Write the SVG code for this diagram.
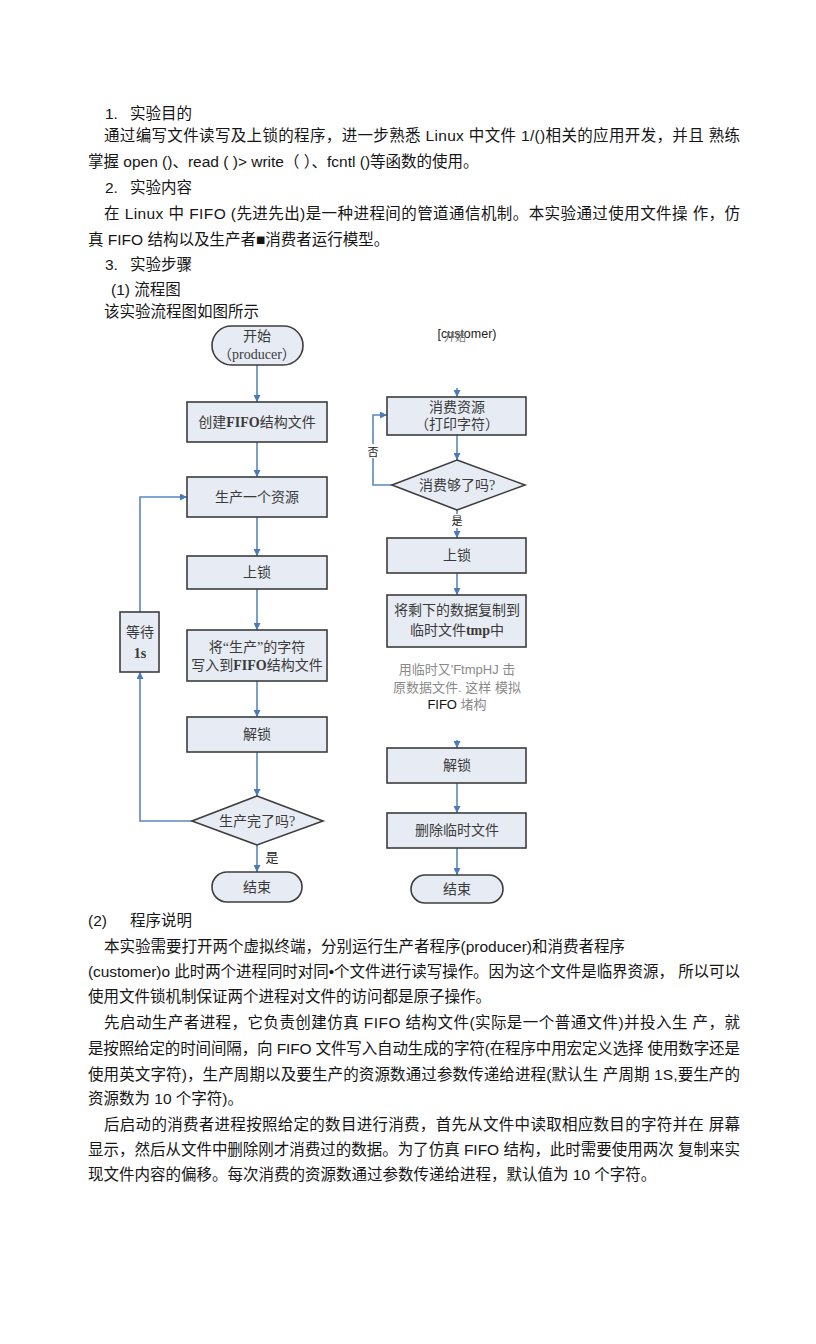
<svg xmlns="http://www.w3.org/2000/svg" width="816" height="1344" viewBox="0 0 816 1344">
<defs>
<style>
.body{font-family:"Liberation Sans","Noto Sans CJK SC",sans-serif;font-size:15.5px;fill:#151515}
.fc{font-family:"Liberation Serif","Noto Sans CJK SC",serif;font-size:14px;fill:#3a3a3a;text-anchor:middle}
.box{fill:#e7ecf4;stroke:#3d3d3d;stroke-width:1.6}
.edge{fill:none;stroke:#5b87be;stroke-width:1.6}
.note{font-family:"Liberation Sans","Noto Sans CJK SC",sans-serif;font-size:13px;fill:#8a8a8a;text-anchor:middle}
.lbl{font-family:"Liberation Sans","Noto Sans CJK SC",sans-serif;font-size:13px;fill:#222;text-anchor:middle}
</style>
<marker id="ah" viewBox="0 0 10 10" refX="10" refY="5" markerWidth="7" markerHeight="7" markerUnits="userSpaceOnUse" orient="auto">
<path d="M0,0 L10,5 L0,10 z" fill="#4a7ab8"/>
</marker>
</defs>
<rect width="816" height="1344" fill="#ffffff"/>

<g id="text-top">
<text class="body" x="105" y="119">1.</text>
<text class="body" x="130" y="119">实验目的</text>
<text class="body" x="104" y="141" textLength="636" lengthAdjust="spacing">通过编写文件读写及上锁的程序，进一步熟悉 Linux 中文件 1/()相关的应用开发，并且 熟练</text>
<text class="body" x="88" y="167">掌握 open ()、read ( )&gt; write（ ）、fcntl ()等函数的使用。</text>
<text class="body" x="105" y="193">2.</text>
<text class="body" x="130" y="193">实验内容</text>
<text class="body" x="104" y="219" textLength="636" lengthAdjust="spacing">在 Linux 中 FIFO (先进先出)是一种进程间的管道通信机制。本实验通过使用文件操 作，仿</text>
<text class="body" x="88" y="245">真 FIFO 结构以及生产者■消费者运行模型。</text>
<text class="body" x="105" y="270">3.</text>
<text class="body" x="130" y="270">实验步骤</text>
<text class="body" x="111" y="295">(1) 流程图</text>
<text class="body" x="104" y="317">该实验流程图如图所示</text>
</g>

<g id="connectors">
<line class="edge" x1="257" y1="365" x2="257" y2="402" marker-end="url(#ah)"/>
<line class="edge" x1="257" y1="442" x2="257" y2="477" marker-end="url(#ah)"/>
<line class="edge" x1="257" y1="517" x2="257" y2="556" marker-end="url(#ah)"/>
<line class="edge" x1="257" y1="589" x2="257" y2="630" marker-end="url(#ah)"/>
<line class="edge" x1="257" y1="681" x2="257" y2="717" marker-end="url(#ah)"/>
<line class="edge" x1="257" y1="752" x2="257" y2="796" marker-end="url(#ah)"/>
<line class="edge" x1="257" y1="845" x2="257" y2="872" marker-end="url(#ah)"/>
<polyline class="edge" points="192,821 140,821 140,672" marker-end="url(#ah)"/>
<polyline class="edge" points="140,612 140,497 187,497" marker-end="url(#ah)"/>
<line class="edge" x1="457" y1="388" x2="457" y2="397" marker-end="url(#ah)"/>
<line class="edge" x1="457" y1="435" x2="457" y2="460" marker-end="url(#ah)"/>
<polyline class="edge" points="392,485 373,485 373,415 387,415" marker-end="url(#ah)"/>
<line class="edge" x1="457" y1="510" x2="457" y2="538" marker-end="url(#ah)"/>
<line class="edge" x1="457" y1="573" x2="457" y2="595" marker-end="url(#ah)"/>
<line class="edge" x1="457" y1="740" x2="457" y2="748" marker-end="url(#ah)"/>
<line class="edge" x1="457" y1="783" x2="457" y2="813" marker-end="url(#ah)"/>
<line class="edge" x1="457" y1="848" x2="457" y2="875" marker-end="url(#ah)"/>
<rect x="368" y="444" width="10" height="14" fill="#ffffff"/>
<text class="lbl" x="373" y="456" style="font-size:11px">否</text>
<rect x="451" y="514" width="12" height="14" fill="#ffffff"/>
<text class="lbl" x="457" y="525" style="font-size:11px">是</text>
<text class="lbl" x="272" y="862">是</text>
</g>

<g id="p-start">
<rect class="box" x="212" y="326" width="91" height="39" rx="19.5"/>
<text class="fc" x="257" y="341">开始</text>
<text class="fc" x="257" y="359">（producer）</text>
</g>
<g id="p-create">
<rect class="box" x="187" y="402" width="140" height="40"/>
<text class="fc" x="257" y="427">创建<tspan font-weight="bold">FIFO</tspan>结构文件</text>
</g>
<g id="p-produce">
<rect class="box" x="187" y="477" width="140" height="40"/>
<text class="fc" x="257" y="502">生产一个资源</text>
</g>
<g id="p-lock">
<rect class="box" x="187" y="556" width="140" height="33"/>
<text class="fc" x="257" y="577">上锁</text>
</g>
<g id="p-write">
<rect class="box" x="187" y="630" width="140" height="51"/>
<text class="fc" x="257" y="652">将“生产”的字符</text>
<text class="fc" x="257" y="670">写入到<tspan font-weight="bold">FIFO</tspan>结构文件</text>
</g>
<g id="p-unlock">
<rect class="box" x="187" y="717" width="140" height="35"/>
<text class="fc" x="257" y="739">解锁</text>
</g>
<g id="p-done">
<polygon class="box" points="257,796 323,821 257,845 192,821"/>
<text class="fc" x="257" y="826">生产完了吗?</text>
</g>
<g id="p-wait">
<rect class="box" x="120" y="612" width="39" height="60"/>
<text class="fc" x="140" y="637">等待</text>
<text class="fc" x="140" y="658" font-weight="bold">1s</text>
</g>
<g id="p-end">
<rect class="box" x="212" y="872" width="90" height="30" rx="15"/>
<text class="fc" x="257" y="892">结束</text>
</g>

<g id="c-start">
<text x="467" y="338" style="font-family:'Liberation Sans',sans-serif;font-size:12.5px;fill:#222;text-anchor:middle">[customer)</text>
<text x="455" y="341" style="font-family:'Noto Sans CJK SC',sans-serif;font-size:11px;fill:#777;text-anchor:middle">开始</text>
</g>
<g id="c-consume">
<rect class="box" x="387" y="397" width="139" height="38"/>
<text class="fc" x="457" y="412">消费资源</text>
<text class="fc" x="457" y="429">（打印字符）</text>
</g>
<g id="c-enough">
<polygon class="box" points="457,460 525,485 457,510 392,485"/>
<text class="fc" x="457" y="490">消费够了吗?</text>
</g>
<g id="c-lock">
<rect class="box" x="387" y="538" width="139" height="35"/>
<text class="fc" x="457" y="560">上锁</text>
</g>
<g id="c-copy">
<rect class="box" x="387" y="595" width="139" height="52"/>
<text class="fc" x="457" y="615">将剩下的数据复制到</text>
<text class="fc" x="457" y="635">临时文件<tspan font-weight="bold">tmp</tspan>中</text>
</g>
<g id="c-note">
<text class="note" x="457" y="674">用临时又'FtmpHJ 击</text>
<text class="note" x="457" y="692">原数据文件. 这样 模拟</text>
<text class="note" x="457" y="709"><tspan fill="#111">FIFO</tspan> 堵构</text>
</g>
<g id="c-unlock">
<rect class="box" x="387" y="748" width="139" height="35"/>
<text class="fc" x="457" y="770">解锁</text>
</g>
<g id="c-delete">
<rect class="box" x="387" y="813" width="139" height="35"/>
<text class="fc" x="457" y="835">删除临时文件</text>
</g>
<g id="c-end">
<rect class="box" x="411" y="875" width="92" height="28" rx="14"/>
<text class="fc" x="457" y="894">结束</text>
</g>

<g id="text-bottom">
<text class="body" x="88" y="926">(2)</text>
<text class="body" x="130" y="926">程序说明</text>
<text class="body" x="104" y="952">本实验需要打开两个虚拟终端，分别运行生产者程序(producer)和消费者程序</text>
<text class="body" x="88" y="977" textLength="652" lengthAdjust="spacing">(customer)o 此时两个进程同时对同•个文件进行读写操作。因为这个文件是临界资源， 所以可以</text>
<text class="body" x="88" y="1002">使用文件锁机制保证两个进程对文件的访问都是原子操作。</text>
<text class="body" x="104" y="1028" textLength="636" lengthAdjust="spacing">先启动生产者进程，它负责创建仿真 FIFO 结构文件(实际是一个普通文件)并投入生 产，就</text>
<text class="body" x="88" y="1054" textLength="652" lengthAdjust="spacing">是按照给定的时间间隔，向 FIFO 文件写入自动生成的字符(在程序中用宏定义选择 使用数字还是</text>
<text class="body" x="88" y="1080" textLength="652" lengthAdjust="spacing">使用英文字符)，生产周期以及要生产的资源数通过参数传递给进程(默认生 产周期 1S,要生产的</text>
<text class="body" x="88" y="1104">资源数为 10 个字符)。</text>
<text class="body" x="104" y="1130" textLength="636" lengthAdjust="spacing">后启动的消费者进程按照给定的数目进行消费，首先从文件中读取相应数目的字符并在 屏幕</text>
<text class="body" x="88" y="1155" textLength="652" lengthAdjust="spacing">显示，然后从文件中删除刚才消费过的数据。为了仿真 FIFO 结构，此时需要使用两次 复制来实</text>
<text class="body" x="88" y="1180">现文件内容的偏移。每次消费的资源数通过参数传递给进程，默认值为 10 个字符。</text>
</g>
</svg>
